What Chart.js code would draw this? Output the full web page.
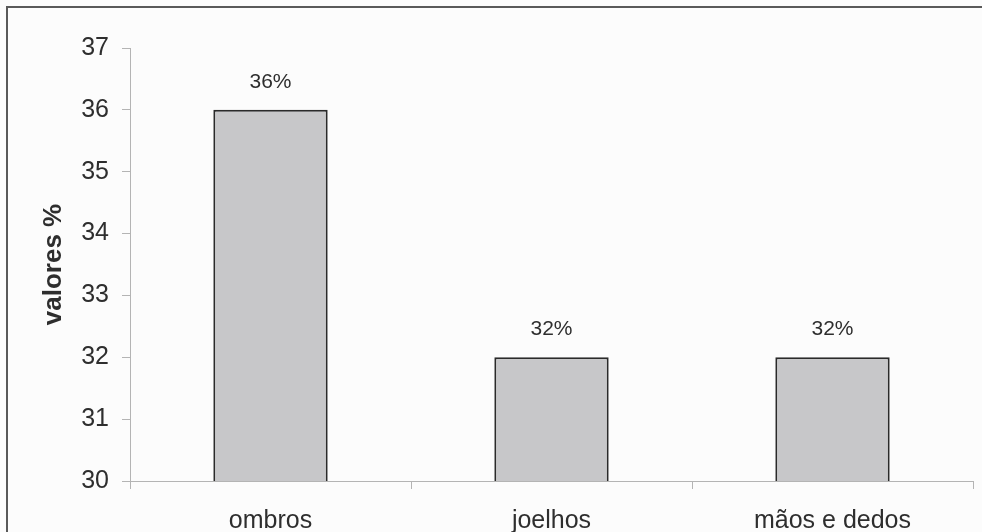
<!DOCTYPE html>
<html>
<head>
<meta charset="utf-8">
<script src="https://cdn.jsdelivr.net/npm/chart.js@4/dist/chart.umd.min.js"></script>
<style>
  html, body { margin: 0; padding: 0; background: #fcfcfc; }
  #wrap { position: relative; width: 982px; height: 532px; }
</style>
</head>
<body>
<div id="wrap"><canvas id="c" width="982" height="532"></canvas></div>
<script>
// Body regions and their shares
const categories = ['ombros', 'joelhos', 'mãos e dedos'];
const values = [36, 32, 32];
const valueLabels = ['36%', '32%', '32%'];
const yTicks = [30, 31, 32, 33, 34, 35, 36, 37];
const yTitle = 'valores %';

const FONT = '"Liberation Sans", Arial, sans-serif';
const TEXT = '#2e2e2e';
const AXIS = '#b4b4b4';

// Page background and the outer frame (left and top edges fall inside the picture)
const framePlugin = {
  id: 'frame',
  beforeDraw(chart) {
    const ctx = chart.ctx;
    ctx.save();
    ctx.fillStyle = '#fcfcfc';
    ctx.fillRect(0, 0, chart.width, chart.height);
    ctx.strokeStyle = '#5a5a5a';
    ctx.lineWidth = 2;
    ctx.beginPath();
    ctx.moveTo(7, chart.height);
    ctx.lineTo(7, 7);
    ctx.lineTo(chart.width, 7);
    ctx.stroke();
    ctx.restore();
  }
};

// Rotated y-axis title, centred on the plot height
const yTitlePlugin = {
  id: 'yTitle',
  afterDraw(chart) {
    const ctx = chart.ctx;
    const area = chart.chartArea;
    ctx.save();
    ctx.translate(54, (area.top + area.bottom) / 2);
    ctx.rotate(-Math.PI / 2);
    ctx.font = 'bold 26px ' + FONT;
    ctx.fillStyle = TEXT;
    ctx.textAlign = 'center';
    ctx.textBaseline = 'middle';
    ctx.fillText(yTitle, 0, 0);
    ctx.restore();
  }
};

// Percentage labels above each bar
const valueLabelPlugin = {
  id: 'valueLabels',
  afterDatasetsDraw(chart) {
    const ctx = chart.ctx;
    const meta = chart.getDatasetMeta(0);
    ctx.save();
    ctx.font = '21px ' + FONT;
    ctx.fillStyle = TEXT;
    ctx.textAlign = 'center';
    ctx.textBaseline = 'middle';
    meta.data.forEach((bar, i) => {
      ctx.fillText(valueLabels[i], bar.x, bar.y - 28);
    });
    ctx.restore();
  }
};

new Chart(document.getElementById('c'), {
  type: 'bar',
  data: {
    labels: categories,
    datasets: [{
      data: values,
      backgroundColor: '#c7c7c9',
      borderColor: '#2a2a2a',
      borderWidth: 2,
      borderSkipped: false,
      categoryPercentage: 1,
      barPercentage: 0.407
    }]
  },
  options: {
    responsive: false,
    animation: false,
    layout: { padding: { left: 0, right: 9, top: 48, bottom: 0 } },
    plugins: {
      legend: { display: false },
      tooltip: { enabled: false }
    },
    scales: {
      x: {
        offset: true,
        grid: {
          offset: true,
          drawOnChartArea: false,
          drawTicks: true,
          tickLength: 8,
          color: AXIS
        },
        border: { display: true, color: AXIS, width: 1 },
        ticks: {
          color: TEXT,
          font: { family: FONT, size: 25 },
          padding: 17,
          maxRotation: 0
        },
        afterFit(scale) { scale.height = 51; }
      },
      y: {
        min: 30,
        max: 37,
        afterBuildTicks(scale) { scale.ticks = yTicks.map(v => ({ value: v })); },
        grid: {
          drawOnChartArea: false,
          drawTicks: true,
          tickLength: 8,
          color: AXIS
        },
        border: { display: true, color: AXIS, width: 1 },
        ticks: {
          color: TEXT,
          font: { family: FONT, size: 25 },
          padding: 13
        },
        afterFit(scale) { scale.width = 130; }
      }
    }
  },
  plugins: [framePlugin, yTitlePlugin, valueLabelPlugin]
});
</script>
</body>
</html>
